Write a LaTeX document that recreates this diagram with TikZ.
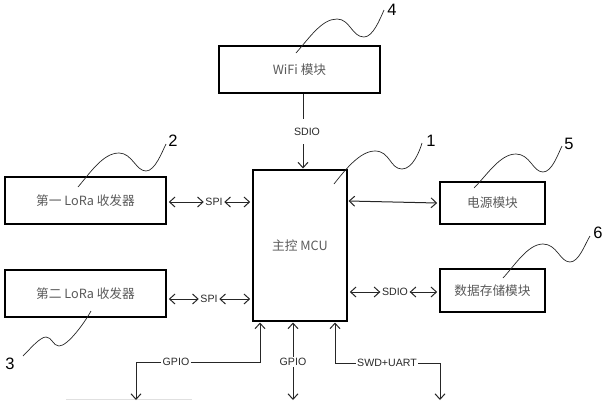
\documentclass[tikz,border=0pt]{standalone}
\usepackage{fontspec}
\setmainfont{Liberation Sans}
\newfontfamily\cjk{Noto Sans CJK SC}
\usetikzlibrary{arrows.meta}
\definecolor{boxtxt}{HTML}{5A5A5A}
\definecolor{lbltxt}{HTML}{2A2A2A}
\tikzset{
  modbox/.style={draw=black,line width=2.8pt,inner sep=0pt,text=boxtxt,font=\cjk\fontsize{12.7}{15}\selectfont},
  buslabel/.style={fill=white,inner sep=1.5pt,text=lbltxt,font=\fontsize{10.6}{12}\selectfont},
  numlabel/.style={inner sep=0pt,text=black,font=\fontsize{16.5}{18}\selectfont},
  link/.style={draw=black!85,line width=1pt},
  both/.style={link,{Straight Barb[length=5.5pt,width=10pt]}-{Straight Barb[length=5.5pt,width=10pt]}},
  oneway/.style={link,-{Straight Barb[length=5.5pt,width=10pt]}},
  squig/.style={draw=black!85,line width=0.7pt},
}
\begin{document}
\begin{tikzpicture}[x=1pt,y=-1pt]
\useasboundingbox (0,0) rectangle (606,400);
\node[modbox,minimum width=161pt,minimum height=47pt] (wifi) at (299.5,69.5) {WiFi 模块};
\node[modbox,minimum width=94pt,minimum height=151pt] (mcu) at (300,245.5) {主控 MCU};
\node[modbox,minimum width=161pt,minimum height=47pt] (lora1) at (85.5,200.5) {第一 LoRa 收发器};
\node[modbox,minimum width=161pt,minimum height=47pt] (lora2) at (85.5,293.5) {第二 LoRa 收发器};
\node[modbox,minimum width=105pt,minimum height=42pt] (power) at (492.5,203) {电源模块};
\node[modbox,minimum width=105pt,minimum height=43pt] (store) at (492.5,290.5) {数据存储模块};

\node[numlabel] (n1) at (431,141) {1};
\node[numlabel] (n2) at (173,141) {2};
\node[numlabel] (n3) at (10,364) {3};
\node[numlabel] (n4) at (392,10) {4};
\node[numlabel] (n5) at (569,144) {5};
\node[numlabel] (n6) at (598,233) {6};

\node[buslabel] (sdio1) at (307,132) {SDIO};
\node[buslabel] (spi1) at (214,202) {SPI};
\node[buslabel] (spi2) at (209,299) {SPI};
\node[buslabel] (sdio2) at (395,292) {SDIO};
\node[buslabel] (gpio1) at (176,362) {GPIO};
\node[buslabel] (gpio2) at (293,362) {GPIO};
\node[buslabel] (swd) at (387,363) {SWD+UART};

\coordinate (o1) at (136,400);
\coordinate (o2) at (293,400);
\coordinate (o3) at (440,400);

\draw[draw=black!12,line width=0.6pt] (66,399.6) -- (192,399.6);

\draw[link] (303,94) -- (303,119);
\draw[oneway] (303,144) -- (303,168.5);
\draw[both] ([xshift=1.4pt]lora1.east |- spi1.west) -- (spi1.west);
\draw[both] (spi1.east) -- ([xshift=-1.4pt]mcu.west |- spi1.east);
\draw[both] ([xshift=1.4pt]lora2.east |- spi2.west) -- (spi2.west);
\draw[both] (spi2.east) -- ([xshift=-1.4pt]mcu.west |- spi2.east);
\draw[both] (348.5,201) -- ([xshift=-1.4pt]power.west |- 0,203);
\draw[both] ([xshift=1.4pt]mcu.east |- sdio2.west) -- (sdio2.west);
\draw[both] (sdio2.east) -- ([xshift=-1.4pt]store.west |- sdio2.east);
\draw[oneway] (gpio1.east) -| (260,322.5);
\draw[oneway] (gpio1.west) -| (o1);
\draw[oneway] (gpio2.north) -- (293,322.5);
\draw[oneway] (gpio2.south) -- (o2);
\draw[oneway] (swd.west) -| (335,322.5);
\draw[oneway] (swd.east) -| (o3);

\draw[squig] (334,184) .. controls (345,170) and (360,151) .. (375,151) .. controls (390,151) and (390,169) .. (402,169) .. controls (413,169) and (420,150) .. (422,143);
\draw[squig] (78,187) .. controls (90,173) and (103,153) .. (119,153) .. controls (132,153) and (136,171) .. (146,171) .. controls (155,171) and (162,152) .. (166,144);
\draw[squig] (91,311) .. controls (85,322) and (68,346) .. (59,346) .. controls (53,346) and (52,337) .. (46,337) .. controls (40,337) and (30,349) .. (23,356);
\draw[squig] (296,53) .. controls (310,37) and (322,19) .. (337,19) .. controls (350,19) and (352,37) .. (364,37) .. controls (373,37) and (380,19) .. (384,10);
\draw[squig] (474,188) .. controls (487,175) and (500,154) .. (516,154) .. controls (530,154) and (533,172) .. (543,172) .. controls (552,172) and (558,154) .. (562,146);
\draw[squig] (503,278) .. controls (515,265) and (528,244) .. (543,244) .. controls (557,244) and (560,262) .. (570,262) .. controls (579,262) and (585,244) .. (590,236);
\end{tikzpicture}
\end{document}
